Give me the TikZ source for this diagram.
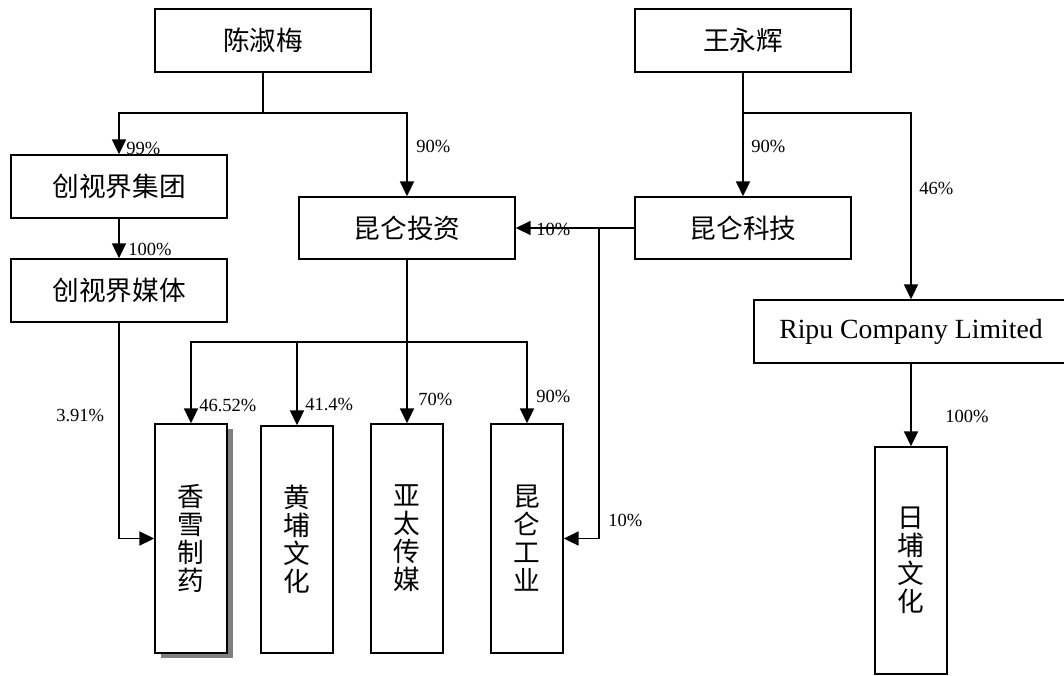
\documentclass[tikz,border=0pt]{standalone}
\usepackage{fontspec}
\setmainfont{Liberation Serif}
\newfontfamily\cjk{Noto Sans CJK SC}
\usetikzlibrary{arrows.meta,shadows}
\begin{document}
\begin{tikzpicture}[x=0.75pt,y=-0.75pt,
  box/.style={draw,line width=1.3pt,fill=white,inner sep=0pt,font=\cjk\fontsize{20}{21}\selectfont,align=center},
  hbox/.style={box,minimum width=216*0.75pt,minimum height=63*0.75pt},
  vbox/.style={box,minimum width=72*0.75pt,minimum height=229*0.75pt},
  conn/.style={line width=1.3pt},
  arr/.style={conn,-{Triangle[length=11pt,width=10.5pt]}},
  pct/.style={anchor=west,inner sep=0pt,font=\fontsize{13.9}{16}\selectfont}]
\useasboundingbox (0,0) rectangle (1064,675);
% top level
\node[hbox] (chen) at (263,40.5) {陈淑梅};
\node[hbox] (wang) at (743,40.5) {王永辉};
% second level
\node[hbox] (jt) at (119,186.5) {创视界集团};
\node[hbox] (mt) at (119,290.5) {创视界媒体};
\node[hbox,minimum height=62*0.75pt] (kltz) at (407,228) {昆仑投资};
\node[hbox,minimum height=62*0.75pt] (klkj) at (743,228) {昆仑科技};
\node[hbox,minimum width=314*0.75pt,font=\fontsize{20.8}{24}\selectfont] (ripu) at (911,331.5) {Ripu Company Limited};
% bottom
\node[vbox,drop shadow={shadow xshift=6*0.75pt,shadow yshift=-5*0.75pt,fill=black!50,opacity=1}] (xx) at (191,538.5) {香\\雪\\制\\药};
\node[vbox,minimum height=227*0.75pt] (hp) at (297,539.5) {黄\\埔\\文\\化};
\node[vbox] (yt) at (407,538.5) {亚\\太\\传\\媒};
\node[vbox] (klgy) at (527,538.5) {昆\\仑\\工\\业};
\node[vbox,minimum height=227*0.75pt] (rb) at (911,560.5) {日\\埔\\文\\化};
% coordinates
\coordinate (c1) at (263,113);
\coordinate (c2) at (407,342);
\coordinate (c3) at (743,113);
\coordinate (c4) at (599,228);
% connectors
\draw[conn] (chen.south) -- (c1);
\draw[arr] (c1) -| (jt.north);
\draw[arr] (c1) -| (kltz.north);
\draw[arr] (jt.south) -- (mt.north);
\draw[arr] (mt.south) |- (xx.west);
\draw[conn] (kltz.south) -- (c2);
\draw[arr] (c2) -| (xx.north);
\draw[arr] (c2) -| (hp.north);
\draw[arr] (c2) -- (yt.north);
\draw[arr] (c2) -| (klgy.north);
\draw[conn] (wang.south) -- (c3);
\draw[arr] (c3) -- (klkj.north);
\draw[arr] (c3) -| (ripu.north);
\draw[arr] (klkj.west) -- (kltz.east);
\draw[arr] (c4) |- (klgy.east);
\draw[arr] (ripu.south) -- (rb.north);
% labels
\node[pct] (l1) at (126,148) {99\%};
\node[pct] (l2) at (128,249) {100\%};
\node[pct] (l3) at (416,146) {90\%};
\node[pct] (l4) at (751,146) {90\%};
\node[pct] (l5) at (919,188) {46\%};
\node[pct] (l6) at (536,229) {10\%};
\node[pct] (l7) at (199,405) {46.52\%};
\node[pct] (l8) at (305,404) {41.4\%};
\node[pct] (l9) at (418,399) {70\%};
\node[pct] (l10) at (536,396) {90\%};
\node[pct] (l11) at (608,520) {10\%};
\node[pct] (l12) at (945,416) {100\%};
\node[pct] (l13) at (56,415) {3.91\%};
\end{tikzpicture}
\end{document}
